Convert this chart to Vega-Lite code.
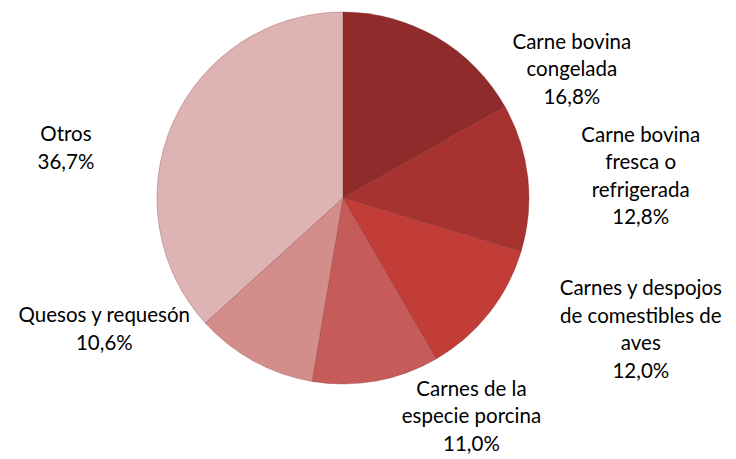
{
  "$schema": "https://vega.github.io/schema/vega-lite/v6.json",
  "width": 686,
  "height": 396,
  "autosize": {"type": "none"},
  "padding": {"left": 0, "top": 0, "right": 50, "bottom": 63},
  "background": "white",
  "config": {"view": {"stroke": null}},
  "data": {
    "values": [
      {"categoria": "Carne bovina congelada", "porcentaje": 16.8, "etiqueta": "Carne bovina\ncongelada\n16,8%"},
      {"categoria": "Carne bovina fresca o refrigerada", "porcentaje": 12.8, "etiqueta": "Carne bovina\nfresca o\nrefrigerada\n12,8%"},
      {"categoria": "Carnes y despojos de comestibles de aves", "porcentaje": 12.0, "etiqueta": "Carnes y despojos\nde comestibles de\naves\n12,0%"},
      {"categoria": "Carnes de la especie porcina", "porcentaje": 11.0, "etiqueta": "Carnes de la\nespecie porcina\n11,0%"},
      {"categoria": "Quesos y requesón", "porcentaje": 10.6, "etiqueta": "Quesos y requesón\n10,6%"},
      {"categoria": "Otros", "porcentaje": 36.7, "etiqueta": "Otros\n36,7%"}
    ]
  },
  "transform": [{"window": [{"op": "row_number", "as": "orden"}]}],
  "encoding": {
    "theta": {"field": "porcentaje", "type": "quantitative", "stack": true},
    "order": {"field": "orden", "type": "quantitative", "sort": "ascending"},
    "detail": {"field": "categoria", "type": "nominal"}
  },
  "layer": [
    {
      "mark": {"type": "arc", "outerRadius": 186, "stroke": "#7a2222", "strokeWidth": 0.6, "strokeOpacity": 0.5},
      "encoding": {
        "color": {
          "field": "categoria",
          "type": "nominal",
          "legend": null,
          "scale": {
            "domain": ["Carne bovina congelada", "Carne bovina fresca o refrigerada", "Carnes y despojos de comestibles de aves", "Carnes de la especie porcina", "Quesos y requesón", "Otros"],
            "range": ["#902B2B", "#A73331", "#C23D38", "#C65C5A", "#D38E8C", "#DEB3B3"]
          }
        }
      }
    },
    {
      "mark": {"type": "text", "radius": 210, "dx": 123, "dy": 26, "font": "Lato", "fontSize": 20.5, "lineHeight": 27.5, "lineBreak": "\n", "align": "center", "baseline": "middle", "color": "#000000"},
      "encoding": {"text": {"condition": {"test": "datum.categoria === 'Carne bovina congelada'", "field": "etiqueta"}, "value": ""}}
    },
    {
      "mark": {"type": "text", "radius": 210, "dx": 89, "dy": -39, "font": "Lato", "fontSize": 20.5, "lineHeight": 27.5, "lineBreak": "\n", "align": "center", "baseline": "middle", "color": "#000000"},
      "encoding": {"text": {"condition": {"test": "datum.categoria === 'Carne bovina fresca o refrigerada'", "field": "etiqueta"}, "value": ""}}
    },
    {
      "mark": {"type": "text", "radius": 210, "dx": 133, "dy": -39, "font": "Lato", "fontSize": 20.5, "lineHeight": 27.5, "lineBreak": "\n", "align": "center", "baseline": "middle", "color": "#000000"},
      "encoding": {"text": {"condition": {"test": "datum.categoria === 'Carnes y despojos de comestibles de aves'", "field": "etiqueta"}, "value": ""}}
    },
    {
      "mark": {"type": "text", "radius": 210, "dx": 91, "dy": -15, "font": "Lato", "fontSize": 20.5, "lineHeight": 27.5, "lineBreak": "\n", "align": "center", "baseline": "middle", "color": "#000000"},
      "encoding": {"text": {"condition": {"test": "datum.categoria === 'Carnes de la especie porcina'", "field": "etiqueta"}, "value": ""}}
    },
    {
      "mark": {"type": "text", "radius": 210, "dx": -138, "dy": -66, "font": "Lato", "fontSize": 20.5, "lineHeight": 27.5, "lineBreak": "\n", "align": "center", "baseline": "middle", "color": "#000000"},
      "encoding": {"text": {"condition": {"test": "datum.categoria === 'Quesos y requesón'", "field": "etiqueta"}, "value": ""}}
    },
    {
      "mark": {"type": "text", "radius": 210, "dx": -85, "dy": 22, "font": "Lato", "fontSize": 20.5, "lineHeight": 27.5, "lineBreak": "\n", "align": "center", "baseline": "middle", "color": "#000000"},
      "encoding": {"text": {"condition": {"test": "datum.categoria === 'Otros'", "field": "etiqueta"}, "value": ""}}
    }
  ]
}
